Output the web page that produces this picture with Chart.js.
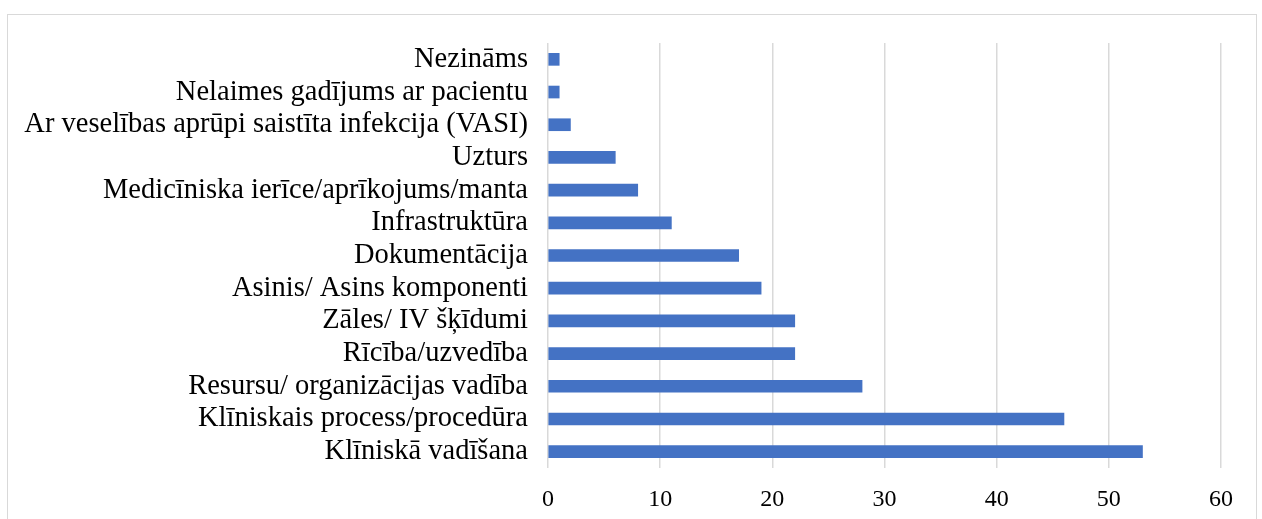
<!DOCTYPE html>
<html>
<head>
<meta charset="utf-8">
<script src="https://cdn.jsdelivr.net/npm/chart.js@4/dist/chart.umd.min.js"></script>
<style>
    body{margin:0;background:#fff;overflow:hidden;}
    #frame{position:absolute;left:7px;top:14px;width:1250px;height:520px;border:1px solid #d9d9d9;box-sizing:border-box;}
    #wrap{position:absolute;left:0;top:0;width:1262px;height:519px;}
</style>
</head>
<body>
<div id="frame"></div>
<div id="wrap"><canvas id="c"></canvas></div>
<script>
// categories top to bottom, as in the picture
let categories=[
    "Nezināms",
    "Nelaimes gadījums ar pacientu",
    "Ar veselības aprūpi saistīta infekcija (VASI)",
    "Uzturs",
    "Medicīniska ierīce/aprīkojums/manta",
    "Infrastruktūra",
    "Dokumentācija",
    "Asinis/ Asins komponenti",
    "Zāles/ IV šķīdumi",
    "Rīcība/uzvedība",
    "Resursu/ organizācijas vadība",
    "Klīniskais process/procedūra",
    "Klīniskā vadīšana"
];
let counts=[1,1,2,6,8,11,17,19,22,22,28,46,53];
let xTicks=[0,10,20,30,40,50,60];

let BAR_COLOR="#4472C4";
let GRID_COLOR="#d9d9d9";

new Chart(document.getElementById("c"),{
    type:"bar",
    data:{
        labels:categories,
        datasets:[{
            data:counts,
            backgroundColor:BAR_COLOR,
            borderWidth:0,
            barThickness:12
        }]
    },
    options:{
        indexAxis:"y",
        responsive:true,
        maintainAspectRatio:false,
        animation:false,
        layout:{padding:{left:0,right:41,top:43,bottom:0}},
        plugins:{legend:{display:false},tooltip:{enabled:false}},
        scales:{
            x:{
                min:xTicks[0],
                max:xTicks[xTicks.length-1],
                afterBuildTicks:function(scale){
                    scale.ticks=xTicks.map(v=>({value:v}));
                },
                afterFit:function(scale){scale.height=51;},
                border:{display:false},
                grid:{color:GRID_COLOR,lineWidth:1.5,drawTicks:false},
                ticks:{
                    padding:17,
                    color:"#000",
                    font:{family:"'Liberation Serif','Times New Roman',serif",size:24}
                }
            },
            y:{
                afterFit:function(scale){scale.width=548;},
                border:{display:false},
                grid:{display:false,drawTicks:false},
                ticks:{
                    autoSkip:false,
                    padding:20,
                    color:"#000",
                    font:{family:"'Liberation Serif','Times New Roman',serif",size:28.5}
                }
            }
        }
    }
});
</script>
</body>
</html>
